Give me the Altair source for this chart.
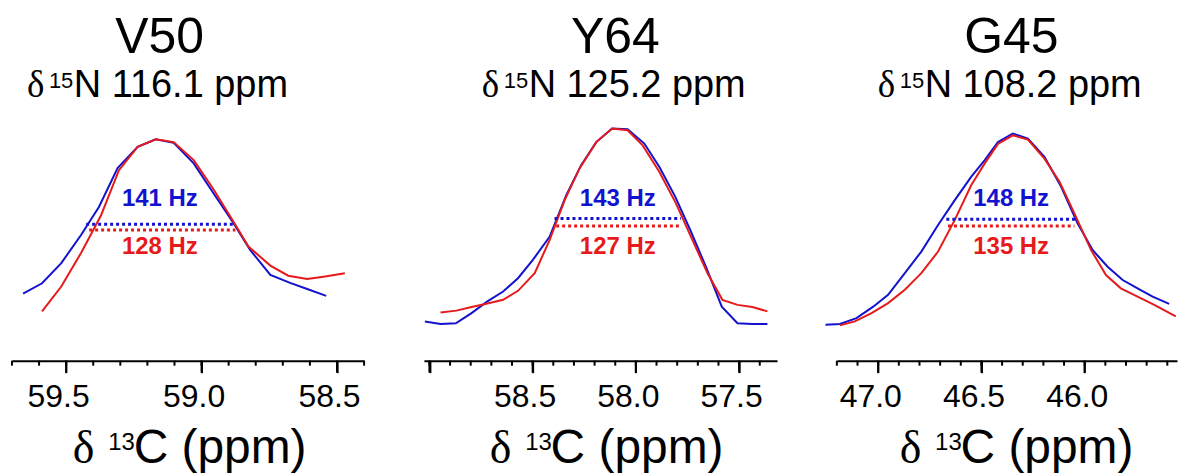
import altair as alt
import pandas as pd

BLUE = "#1212cf"
RED = "#e61a1a"
SANS = "Liberation Sans"
SERIF = "Liberation Serif"

# ---------------- data ----------------
titles = ["V50", "Y64", "G45"]
n15_shifts = ["116.1", "125.2", "108.2"]

# V50
v50_blue_ppm = [59.659, 59.589, 59.518, 59.445, 59.379, 59.310, 59.236, 59.169, 59.103,
                59.029, 58.956, 58.882, 58.820, 58.746, 58.673, 58.610, 58.540]
v50_blue_int = [18.6, 21.5, 27.1, 34.9, 42.7, 53.5, 59.4, 61.5, 60.5,
                54.8, 46.5, 38.2, 30.7, 23.8, 21.6, 19.9, 18.0]
v50_red_ppm = [59.589, 59.518, 59.445, 59.371, 59.305, 59.236, 59.169, 59.103, 59.029,
               58.956, 58.882, 58.827, 58.746, 58.680, 58.610, 58.544, 58.471]
v50_red_int = [13.7, 20.6, 29.9, 40.4, 52.9, 59.4, 61.5, 60.7, 55.7,
               47.6, 38.6, 31.7, 26.4, 23.6, 22.7, 23.4, 24.3]

# Y64
y64_blue_ppm = [59.022, 58.946, 58.872, 58.796, 58.721, 58.643, 58.571, 58.499, 58.418,
                58.337, 58.265, 58.192, 58.115, 58.040, 57.959, 57.886, 57.809, 57.733,
                57.661, 57.584, 57.508, 57.436, 57.363]
y64_blue_int = [10.9, 10.2, 10.4, 13.2, 16.4, 19.2, 22.9, 28.0, 34.4,
                46.0, 54.3, 60.7, 64.5, 64.3, 60.3, 53.8, 45.5, 35.8,
                26.1, 15.0, 10.4, 10.2, 10.2]
y64_red_ppm = [58.946, 58.869, 58.796, 58.724, 58.643, 58.571, 58.490, 58.418, 58.345,
               58.273, 58.192, 58.115, 58.040, 57.967, 57.886, 57.806, 57.726, 57.653,
               57.581, 57.508, 57.436, 57.363]
y64_red_int = [13.4, 13.9, 14.9, 15.8, 16.9, 19.4, 24.3, 33.5, 44.6,
               53.4, 60.7, 64.5, 64.0, 59.8, 52.4, 43.7, 33.5, 24.3,
               16.9, 15.5, 14.9, 13.7]

# G45
g45_blue_ppm = [47.255, 47.185, 47.105, 47.024, 46.952, 46.871, 46.791, 46.710, 46.629,
                46.549, 46.484, 46.420, 46.348, 46.275, 46.195, 46.114, 46.034, 45.961,
                45.889, 45.816, 45.744, 45.671, 45.591]
g45_blue_int = [10.0, 10.2, 11.8, 15.0, 18.3, 24.3, 30.3, 37.7, 44.6,
                51.1, 55.7, 60.7, 63.1, 61.7, 56.6, 48.3, 38.1, 30.7,
                26.1, 22.4, 20.1, 17.8, 15.8]
g45_red_ppm = [47.185, 47.113, 47.032, 46.952, 46.871, 46.791, 46.710, 46.629, 46.549,
               46.484, 46.420, 46.348, 46.275, 46.195, 46.122, 46.050, 45.969, 45.897,
               45.825, 45.744, 45.663, 45.559]
g45_red_int = [9.8, 10.9, 13.2, 16.0, 19.7, 24.3, 30.3, 39.1, 48.8,
               54.8, 60.2, 62.6, 61.4, 56.1, 49.7, 40.9, 30.7, 23.8,
               20.1, 17.8, 15.5, 12.3]

# line widths at half height: [start ppm, end ppm, level]
fw_blue = [[59.426, 58.882, 37.9], [58.394, 57.782, 39.5], [46.670, 46.042, 39.3]]
fw_red = [[59.415, 58.875, 36.3], [58.386, 57.790, 37.4], [46.662, 46.050, 37.4]]
hz_blue = ["141 Hz", "143 Hz", "148 Hz"]
hz_red = ["128 Hz", "127 Hz", "135 Hz"]
hz_blue_level = [44.9, 44.9, 44.9]
hz_red_level = [31.6, 31.7, 31.7]

# x-axis: domains, ticks, labels
x_domains = [[58.4, 59.7], [57.3164, 59.0266], [45.553, 47.2]]
minor_ticks = [
    [59.7, 59.6, 59.5, 59.4, 59.3, 59.2, 59.1, 59.0, 58.9, 58.8, 58.7, 58.6, 58.5, 58.4],
    [59.0, 58.9, 58.8, 58.7, 58.6, 58.5, 58.4, 58.3, 58.2, 58.1, 58.0, 57.9, 57.8, 57.7,
     57.6, 57.5, 57.4],
    [47.2, 47.1, 47.0, 46.9, 46.8, 46.7, 46.6, 46.5, 46.4, 46.3, 46.2, 46.1, 46.0, 45.9,
     45.8, 45.7, 45.6],
]
major_ticks = [[59.5, 59.0, 58.5], [59.0, 58.5, 58.0, 57.5], [47.0, 46.5, 46.0]]
tick_labels = [["59.5", "59.0", "58.5"], ["58.5", "58.0", "57.5"], ["47.0", "46.5", "46.0"]]

blue_ppm = [v50_blue_ppm, y64_blue_ppm, g45_blue_ppm]
blue_int = [v50_blue_int, y64_blue_int, g45_blue_int]
red_ppm = [v50_red_ppm, y64_red_ppm, g45_red_ppm]
red_int = [v50_red_int, y64_red_int, g45_red_int]

# ---------------- layout (pixels) ----------------
PANEL_W = [353, 354, 341]
PANEL_H = 361
SPACING = 60
MAJOR_LEN = 12
MINOR_LEN = 5
title_cx = [148, 192, 175]
sub_x0 = [15, 58, 41]
axtitle_x0 = [61, 66, 63]

color_scale = alt.Scale(domain=["blue", "red"], range=[BLUE, RED])


def txt(text, x, y, font, size, align="left", color="black", weight="normal"):
    return alt.Chart(pd.DataFrame({"t": [text]})).mark_text(
        font=font, fontSize=size, align=align, baseline="alphabetic",
        color=color, fontWeight=weight
    ).encode(text="t:N", x=alt.value(x), y=alt.value(y))


def tick_rules(values, length, xscale):
    return alt.Chart(pd.DataFrame({"v": values})).mark_rule(
        color="black", strokeWidth=2
    ).encode(
        x=alt.X("v:Q", scale=xscale), y=alt.value(PANEL_H), y2=alt.value(PANEL_H + length)
    )


def panel(i):
    df = pd.concat([
        pd.DataFrame({"ppm": blue_ppm[i], "intensity": blue_int[i], "series": "blue"}),
        pd.DataFrame({"ppm": red_ppm[i], "intensity": red_int[i], "series": "red"}),
    ], ignore_index=True)

    label_list = ",".join("'%s'" % v for v in tick_labels[i])
    label_expr = "indexof([%s], datum.label) >= 0 ? datum.label : ''" % label_list

    xaxis = alt.Axis(
        values=major_ticks[i], format=".1f", title=None, grid=False,
        tickSize=MAJOR_LEN, tickColor="black", tickWidth=2,
        domainColor="black", domainWidth=2,
        labelExpr=label_expr, labelFont=SANS, labelFontSize=32, labelColor="black",
        labelPadding=9, labelOffset=-8,
        labelFlush=False, labelOverlap=False, labelBound=False,
    )
    xscale = alt.Scale(domain=x_domains[i], reverse=True, nice=False, zero=False)
    yscale = alt.Scale(domain=[0, 100], nice=False, zero=False)

    lines = alt.Chart(df).mark_line(strokeWidth=2).encode(
        x=alt.X("ppm:Q", scale=xscale, axis=xaxis),
        y=alt.Y("intensity:Q", scale=yscale, axis=None),
        color=alt.Color("series:N", scale=color_scale, legend=None),
    )

    minor = tick_rules(minor_ticks[i], MINOR_LEN, xscale)
    major = tick_rules(major_ticks[i], MAJOR_LEN, xscale)

    fw = pd.DataFrame({
        "x1": [fw_blue[i][0], fw_red[i][0]],
        "x2": [fw_blue[i][1], fw_red[i][1]],
        "y": [fw_blue[i][2], fw_red[i][2]],
        "series": ["blue", "red"],
    })
    rules = alt.Chart(fw).mark_rule(strokeDash=[3, 3], strokeWidth=3).encode(
        x=alt.X("x1:Q", scale=xscale), x2="x2:Q",
        y=alt.Y("y:Q", scale=yscale),
        color=alt.Color("series:N", scale=color_scale, legend=None),
    )

    mid = (fw_blue[i][0] + fw_blue[i][1]) / 2
    hz = pd.DataFrame({
        "x": [mid, mid],
        "y": [hz_blue_level[i], hz_red_level[i]],
        "label": [hz_blue[i], hz_red[i]],
        "series": ["blue", "red"],
    })
    hz_text = alt.Chart(hz).mark_text(
        font=SANS, fontSize=24, fontWeight="bold", baseline="middle", align="center"
    ).encode(
        x=alt.X("x:Q", scale=xscale), y=alt.Y("y:Q", scale=yscale), text="label:N",
        color=alt.Color("series:N", scale=color_scale, legend=None),
    )

    s0 = sub_x0[i]
    a0 = axtitle_x0[i]
    texts = [
        txt(titles[i], title_cx[i], 53, SANS, 50, align="center"),
        txt("δ", s0, 97, SERIF, 37),
        txt("15", s0 + 22, 88, SANS, 22),
        txt("N %s ppm" % n15_shifts[i], s0 + 47, 97, SANS, 38),
        txt("δ", a0, 464, SERIF, 46),
        txt("13", a0 + 35.5, 451, SANS, 24),
        txt("C (ppm)", a0 + 61, 464, SANS, 48),
    ]
    return alt.layer(lines, minor, major, rules, hz_text, *texts).properties(
        width=PANEL_W[i], height=PANEL_H
    )


chart = alt.hconcat(
    panel(0), panel(1), panel(2), spacing=SPACING, bounds="flush"
).properties(
    padding={"left": 11, "top": 0, "right": 0, "bottom": 0}
).configure(font=SANS).configure_view(stroke="transparent", strokeWidth=0)

chart.save("out.html", embed_options={"renderer": "svg", "actions": False})
